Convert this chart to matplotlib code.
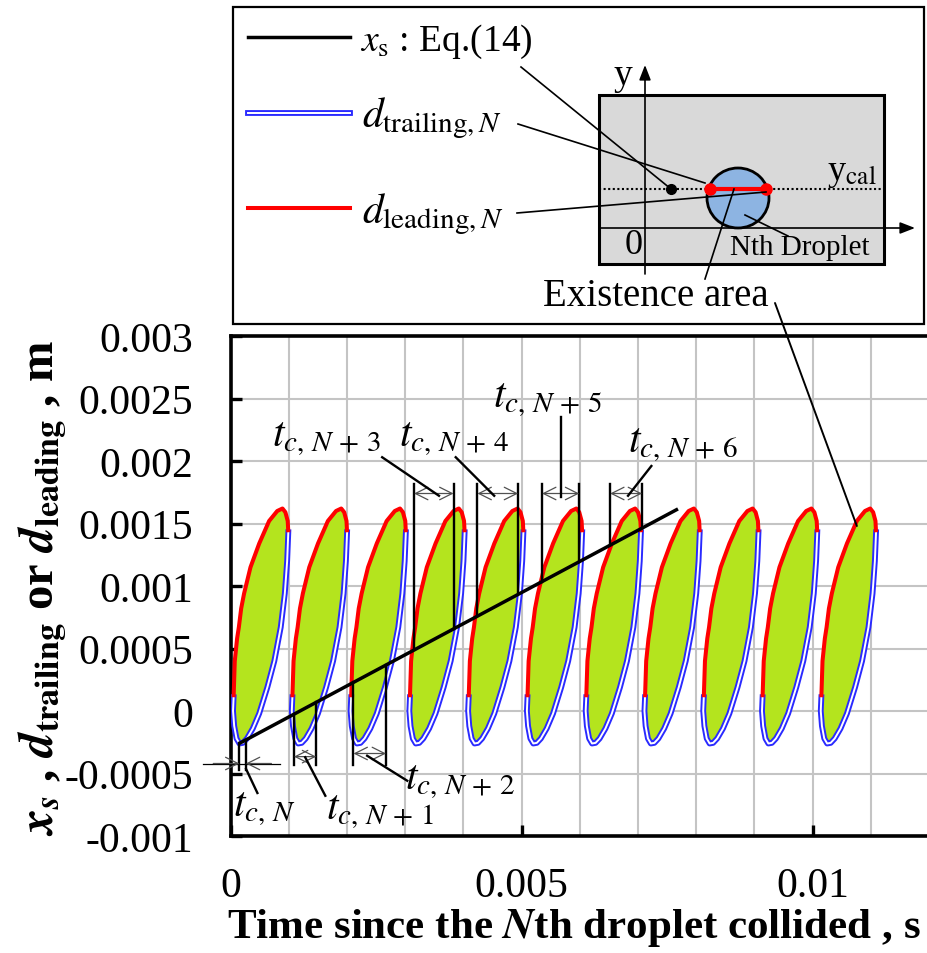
import numpy as np
import matplotlib
matplotlib.use('Agg')
import matplotlib.pyplot as plt
from matplotlib.patches import Rectangle, Ellipse, ConnectionPatch
from matplotlib.ticker import MultipleLocator

plt.rcParams['font.family'] = ['Liberation Serif', 'DejaVu Serif']
plt.rcParams['mathtext.fontset'] = 'stix'

# ---------------- data ----------------
droplet_offsets = [0.0, 0.00101, 0.00202, 0.00303, 0.00404, 0.00505,
                   0.00606, 0.00707, 0.00808, 0.00909, 0.0101]

# leading edge of one droplet existence area (relative time, m)
lead_t = [0.00005, 0.00007, 0.00011, 0.00014, 0.00018, 0.00023, 0.00034,
          0.00049, 0.00066, 0.00080, 0.00089, 0.00094, 0.00098, 0.00099]
lead_y = [0.00011, 0.00040, 0.00058, 0.00067, 0.00082, 0.00094, 0.00115,
          0.00134, 0.00152, 0.00160, 0.00162, 0.00159, 0.00152, 0.00143]
# trailing edge (continues from end of leading edge back to its start)
trail_t = [0.00099, 0.00097, 0.00093, 0.00086, 0.00075, 0.00063, 0.00049,
           0.00038, 0.00028, 0.00021, 0.00015, 0.00010, 0.00006, 0.00004,
           0.00005]
trail_y = [0.00143, 0.00120, 0.00094, 0.00067, 0.00040, 0.00019, -0.00002,
           -0.00014, -0.00022, -0.000255, -0.00026, -0.00022, -0.00012, 0.0,
           0.00011]

xs_t = [0.00017, 0.00766]
xs_y = [-0.000254, 0.00161]

tc_labels = [r'$t_{c,\,N}$', r'$t_{c,\,N\,+\,1}$', r'$t_{c,\,N\,+\,2}$',
             r'$t_{c,\,N\,+\,3}$', r'$t_{c,\,N\,+\,4}$', r'$t_{c,\,N\,+\,5}$',
             r'$t_{c,\,N\,+\,6}$']
tc_left = [0.00015, 0.001086, 0.00211, 0.00315, 0.00424, 0.00535, 0.00652]
tc_right = [0.00026, 0.00147, 0.00267, 0.00383, 0.00494, 0.00599, 0.00707]
tc_line_end = [-0.00047, -0.00043, -0.00043, 0.00182, 0.00182, 0.00182, 0.00182]
tc_arrow_y = [-0.00042, -0.000365, -0.00034, 0.00174, 0.00174, 0.00174, 0.00174]
tc_label_t = [0.00057, 0.00256, 0.00395, 0.00164, 0.00383, 0.00545, 0.00778]
tc_label_y = [-0.00077, -0.00080, -0.00056, 0.00219, 0.00219, 0.00250, 0.00214]
tc_lead_t0 = [0.000264, 0.00128, 0.002345, 0.003579, 0.004528, 0.005678, 0.006828]
tc_lead_y0 = [-0.000464, -0.00037, -0.000358, 0.001722, 0.001722, 0.00171, 0.001722]
tc_lead_t1 = [0.000459, 0.001626, 0.003034, 0.002603, 0.003867, 0.005678, 0.007229]
tc_lead_y1 = [-0.000656, -0.000678, -0.000558, 0.00203, 0.00203, 0.00235, 0.00196]

ytick_vals = [-0.001, -0.0005, 0.0, 0.0005, 0.001, 0.0015, 0.002, 0.0025, 0.003]
ytick_labels = ['-0.001', '-0.0005', '0', '0.0005', '0.001', '0.0015',
                '0.002', '0.0025', '0.003']
xtick_vals = [0.0, 0.005, 0.01]
xtick_labels = ['0', '0.005', '0.01']

fill_color = '#b4e41e'
blue = '#2a2aff'

# ---------------- figure ----------------
W, H = 927, 954
fig = plt.figure(figsize=(W / 100, H / 100), dpi=100)
ax = fig.add_axes([230.7 / W, (H - 837) / H, (929 - 230.7) / W, 500 / H])
ax.set_xlim(0, 0.012)
ax.set_ylim(-0.001, 0.003)

ax.set_xticks(xtick_vals)
ax.set_xticklabels(xtick_labels)
ax.set_yticks(ytick_vals)
ax.set_yticklabels(ytick_labels)
ax.xaxis.set_minor_locator(MultipleLocator(0.001))
ax.grid(True, which='both', color='#c4c4c4', lw=1.5)
ax.set_axisbelow(True)
ax.tick_params(which='major', direction='in', length=8, width=2.4,
               labelsize=30, color='black')
ax.tick_params(axis='y', pad=27)
ax.tick_params(axis='x', pad=22)
ax.tick_params(which='minor', length=0)
for s in ax.spines.values():
    s.set_linewidth(2.6)

for off in droplet_offsets:
    lt = np.array(lead_t) + off
    tt = np.array(trail_t) + off
    ax.fill(np.concatenate([lt, tt]), np.concatenate([lead_y, trail_y]),
            color=fill_color, lw=0, zorder=2)
    ax.plot(tt, trail_y, color=blue, lw=4.2, zorder=3)
    ax.plot(tt, trail_y, color='white', lw=1.4, zorder=3.1)
    ax.plot(lt, lead_y, color='red', lw=2.9, zorder=4, solid_capstyle='butt')

ax.plot(xs_t, xs_y, color='black', lw=2.5, zorder=5)

arrow_col = '#505050'
astyle = 'head_length=0.9,head_width=0.45'
for i in range(len(tc_labels)):
    for tv in (tc_left[i], tc_right[i]):
        yv = np.interp(tv, xs_t, xs_y)
        ax.plot([tv, tv], [yv, tc_line_end[i]], color='black', lw=1.7,
                zorder=6, clip_on=False)
    ya = tc_arrow_y[i]
    if i == 0:
        ax.plot([-0.00047, 0.00085], [ya, ya], color='black', lw=0.9,
                zorder=6, clip_on=False)
        ax.annotate('', xy=(tc_left[i], ya), xytext=(-0.00030, ya),
                    arrowprops=dict(arrowstyle='->,' + astyle,
                                    color=arrow_col, lw=0.9, shrinkA=0, shrinkB=0),
                    annotation_clip=False, zorder=6)
        ax.annotate('', xy=(tc_right[i], ya), xytext=(0.00070, ya),
                    arrowprops=dict(arrowstyle='->,' + astyle,
                                    color=arrow_col, lw=0.9, shrinkA=0, shrinkB=0),
                    annotation_clip=False, zorder=6)
    else:
        ax.annotate('', xy=(tc_left[i], ya), xytext=(tc_right[i], ya),
                    arrowprops=dict(arrowstyle='<->,' + astyle,
                                    color=arrow_col, lw=0.9, shrinkA=0, shrinkB=0),
                    annotation_clip=False, zorder=6)
    ax.plot([tc_lead_t0[i], tc_lead_t1[i]], [tc_lead_y0[i], tc_lead_y1[i]],
            color='black', lw=1.7, zorder=6, clip_on=False)
    ax.text(tc_label_t[i], tc_label_y[i], tc_labels[i], fontsize=30,
            ha='center', va='center', zorder=7)

# axis labels
fig.text(574 / W, 1 - 928 / H,
         r'Time since the $\mathbfit{N}$th droplet collided , s',
         fontsize=31, fontweight='bold', ha='center', va='center')
fig.text(43 / W, 1 - 588 / H,
         r'$\mathbfit{x}_{\mathbfit{s}}$ , $\mathbfit{d}_{\mathbf{trailing}}$ or '
         r'$\mathbfit{d}_{\mathbf{leading}}$ , m',
         fontsize=35, fontweight='bold', rotation=90, ha='center', va='center')

# ---------------- inset legend / schematic (pixel coordinates) ----------------
ao = fig.add_axes([0, 0, 1, 1], zorder=10)
ao.set_xlim(0, W)
ao.set_ylim(H, 0)
ao.axis('off')
ao.patch.set_alpha(0)

ao.add_patch(Rectangle((233, 8), 691, 317, fill=False, ec='black', lw=1.6))
ao.plot([248, 350], [38, 38], color='black', lw=2.5)
ao.plot([248, 350], [114, 114], color=blue, lw=4.2)
ao.plot([248, 350], [114, 114], color='white', lw=1.4)
ao.plot([248, 350], [209, 209], color='red', lw=2.9)
ao.text(360, 42, r'$x_{\mathrm{s}}$ : Eq.(14)', fontsize=27, ha='left', va='center')
ao.text(362, 118, r'$d_{\mathrm{trailing},N}$', fontsize=30, ha='left', va='center')
ao.text(362, 214, r'$d_{\mathrm{leading},N}$', fontsize=30, ha='left', va='center')

ao.add_patch(Rectangle((599, 96), 285, 169, fc='#d9d9d9', ec='black', lw=2.2))
ao.annotate('', xy=(915, 229), xytext=(599, 229),
            arrowprops=dict(arrowstyle='-|>,head_length=0.9,head_width=0.35',
                            color='black', lw=1.2, shrinkA=0, shrinkB=0))
ao.annotate('', xy=(645, 66), xytext=(645, 275),
            arrowprops=dict(arrowstyle='-|>,head_length=0.9,head_width=0.35',
                            color='black', lw=1.2, shrinkA=0, shrinkB=0))
ao.plot([599, 884], [190, 190], color='black', lw=1.5, ls=(0, (1, 1.2)))
ao.add_patch(Ellipse((738, 199), 62, 60, fc='#8db4e2', ec='black', lw=2.0))
ao.plot([710, 766], [190, 190], color='red', lw=3, marker='o', ms=8,
        mec='red', mfc='red')
ao.plot([671], [190], marker='o', ms=7, color='black')
ao.text(623, 76, 'y', fontsize=27, ha='center', va='center')
ao.text(634, 246, '0', fontsize=26, ha='center', va='center')
ao.text(852, 174, r'y$_{\mathrm{cal}}$', fontsize=26, ha='center', va='center')
ao.text(800, 248, 'Nth Droplet', fontsize=21, ha='center', va='center')
ao.text(656, 297, 'Existence area', fontsize=28, ha='center', va='center')
for (x0, y0, x1, y1) in [(521, 68, 671, 190), (518, 125, 705, 184),
                         (517, 214, 766, 193), (788, 237, 745, 216),
                         (705, 280, 734, 190)]:
    ao.plot([x0, x1], [y0, y1], color='black', lw=1.2)

con = ConnectionPatch(xyA=(775, 304), coordsA=ao.transData,
                      xyB=(0.01076, 0.00148), coordsB=ax.transData,
                      color='black', lw=1.4, zorder=20)
fig.add_artist(con)

fig.savefig('out.png', dpi=100)
